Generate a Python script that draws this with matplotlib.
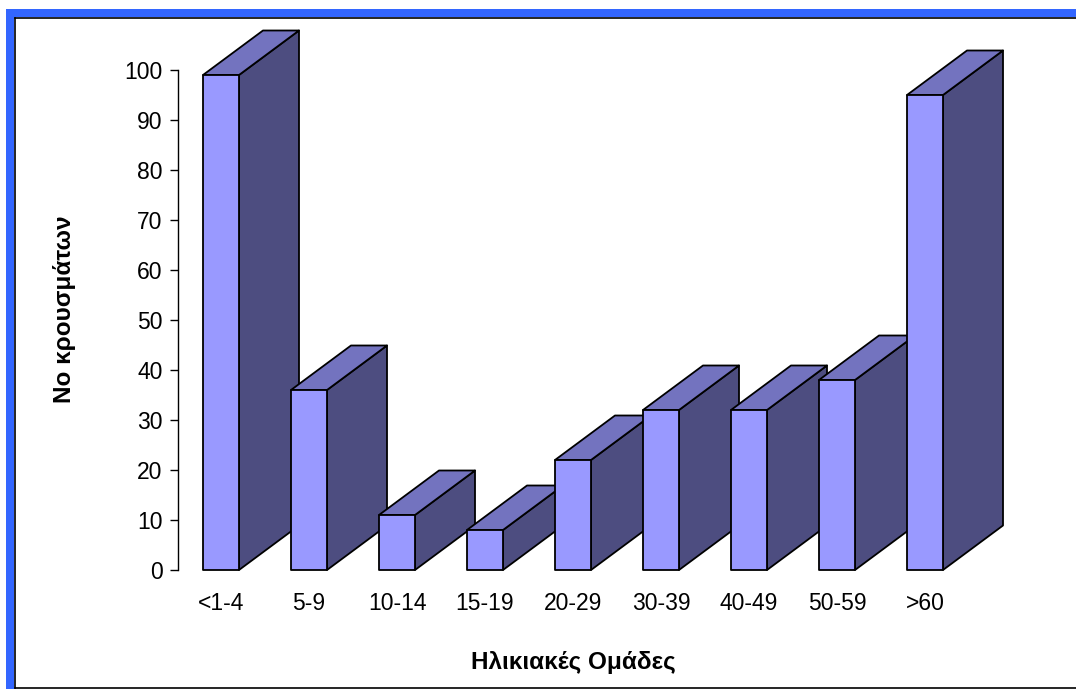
import matplotlib.pyplot as plt
from matplotlib.patches import Rectangle, Polygon

plt.rcParams['font.family'] = ['Liberation Sans', 'DejaVu Sans']

# age groups and number of cases
age_groups = ['<1-4', '5-9', '10-14', '15-19', '20-29', '30-39', '40-49', '50-59', '>60']
cases = [99, 36, 11, 8, 22, 32, 32, 38, 95]

W, H = 1076, 689
fig = plt.figure(figsize=(W / 100, H / 100), dpi=100)

# frame around the slide
fig.add_artist(Rectangle((6 / W, 0), 8 / W, 1 - 9 / H, transform=fig.transFigure,
                         facecolor='#3366FF', edgecolor='none'))
fig.add_artist(Rectangle((6 / W, 1 - 17 / H), 1, 8 / H, transform=fig.transFigure,
                         facecolor='#3366FF', edgecolor='none'))
fig.add_artist(plt.Line2D([14.5 / W, 1], [1 - 17.5 / H] * 2, transform=fig.transFigure,
                          color='black', lw=1.2))
fig.add_artist(plt.Line2D([14.5 / W] * 2, [1 - 17.5 / H, 1.5 / H], transform=fig.transFigure,
                          color='black', lw=1.2))
fig.add_artist(plt.Line2D([14.5 / W, 1], [1.5 / H] * 2, transform=fig.transFigure,
                          color='black', lw=1.2))

ax_l, ax_r, ax_t, ax_b = 178, 1010, 70, 570
ax = fig.add_axes([ax_l / W, 1 - ax_b / H, (ax_r - ax_l) / W, (ax_b - ax_t) / H])
step = 88.0
x0 = (221 - ax_l) / step
ax.set_xlim(-x0, -x0 + (ax_r - ax_l) / step)
ax.set_ylim(0, 100)

px_x = step                     # pixels per category
px_y = (ax_b - ax_t) / 100.0    # pixels per case
bw = 36 / px_x
dx = 60 / px_x
dy = 44.5 / px_y

front_c, top_c, side_c = '#9999FF', '#7373BF', '#4D4D80'
for i, v in enumerate(cases):
    xl = i - bw / 2
    xr = i + bw / 2
    z = 2 + i
    ax.add_patch(Polygon([(xr, 0), (xr + dx, dy), (xr + dx, v + dy), (xr, v)],
                         facecolor=side_c, edgecolor='black', lw=1.3, zorder=z,
                         clip_on=False, joinstyle='round'))
    ax.add_patch(Polygon([(xl, v), (xl + dx, v + dy), (xr + dx, v + dy), (xr, v)],
                         facecolor=top_c, edgecolor='black', lw=1.3, zorder=z,
                         clip_on=False, joinstyle='round'))
    ax.add_patch(Rectangle((xl, 0), bw, v, facecolor=front_c, edgecolor='black',
                           lw=1.3, zorder=z, clip_on=False, joinstyle='round'))

for s in ['top', 'right', 'bottom']:
    ax.spines[s].set_visible(False)
ax.spines['left'].set_linewidth(1.0)
ax.set_yticks(range(0, 101, 10))
ax.tick_params(axis='y', length=6, width=1.0, pad=5, labelsize=16.5)
ax.set_xticks(range(len(age_groups)))
ax.set_xticklabels(age_groups)
ax.tick_params(axis='x', length=0, pad=16, labelsize=16.5)

ax.set_ylabel('Νο κρουσμάτων', fontsize=17.5, fontweight='bold')
ax.yaxis.set_label_coords((65 - ax_l) / (ax_r - ax_l), (ax_b - 309) / (ax_b - ax_t))
ax.set_xlabel('Ηλικιακές Ομάδες', fontsize=17.5, fontweight='bold')
ax.xaxis.set_label_coords((573 - ax_l) / (ax_r - ax_l), -(663 - ax_b) / (ax_b - ax_t))
ax.xaxis.label.set_va('center')
ax.yaxis.label.set_va('center')

fig.savefig('out.png', dpi=100)
